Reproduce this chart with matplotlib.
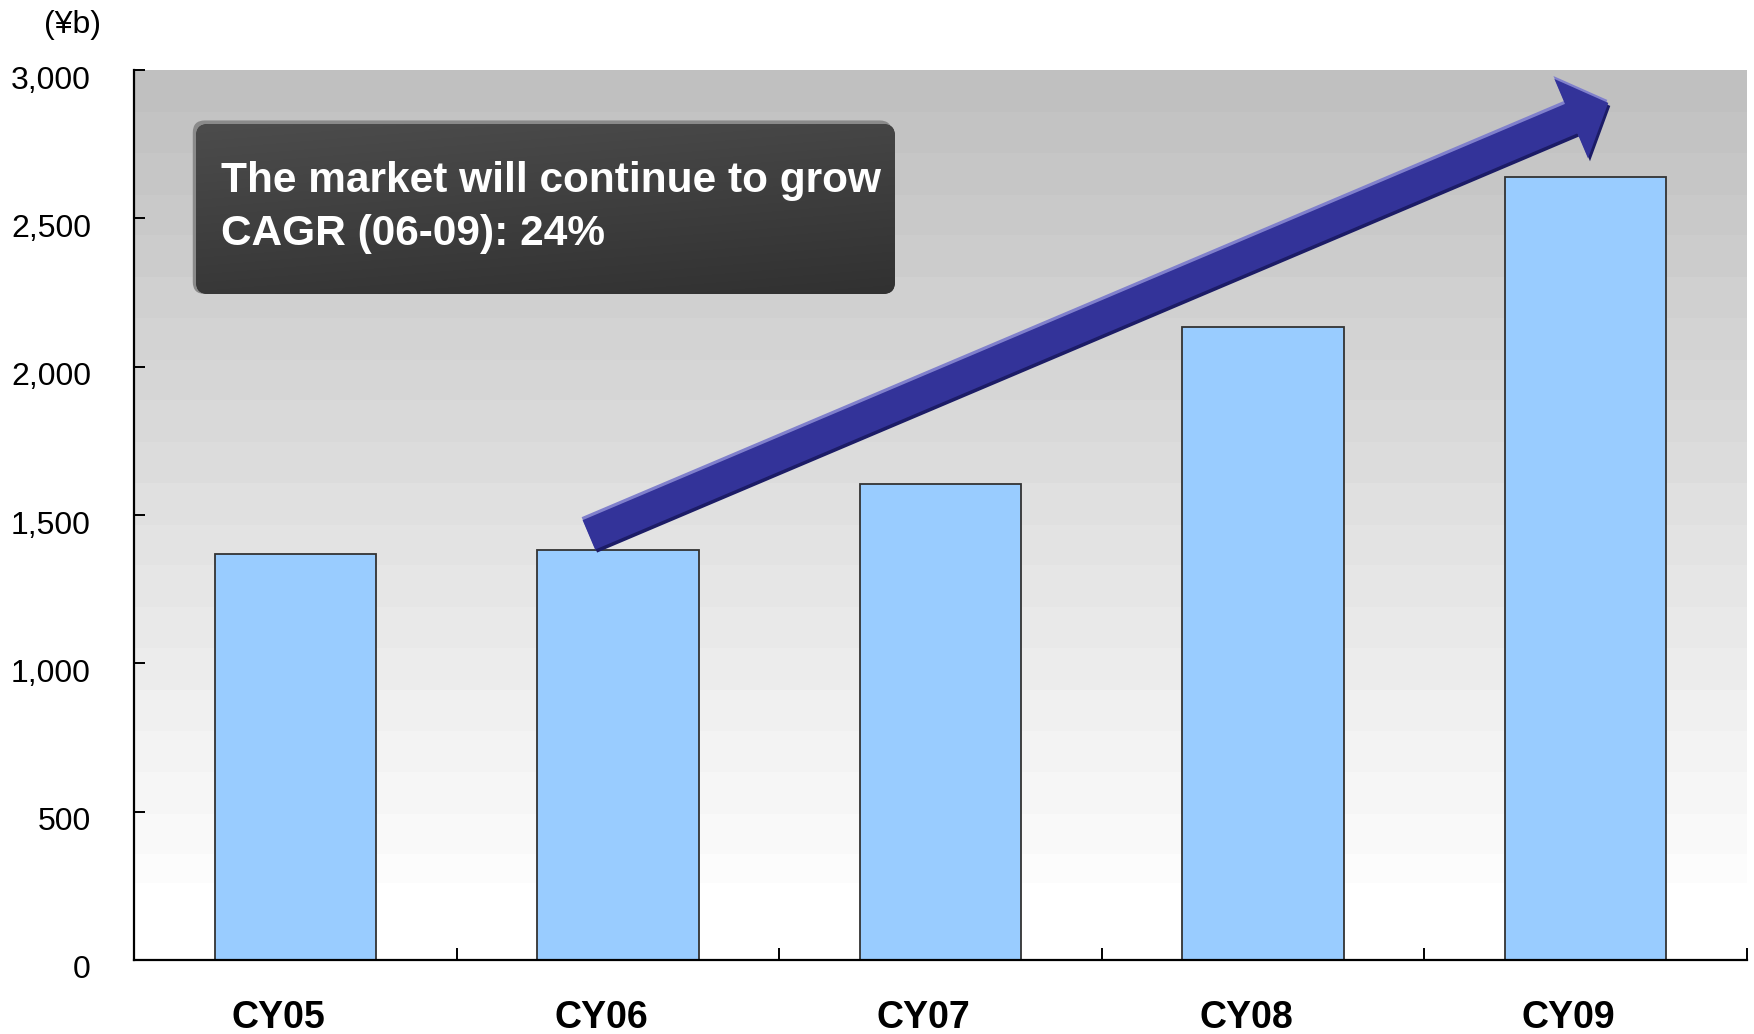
"""
Market size bar chart, CY05-CY09, with growth arrow and CAGR callout.
"""
import numpy as np
import matplotlib
matplotlib.use('Agg')
import matplotlib.pyplot as plt
from matplotlib.patches import FancyArrowPatch, FancyBboxPatch
from matplotlib.transforms import ScaledTranslation, offset_copy

plt.rcParams['font.family'] = ['Liberation Sans', 'DejaVu Sans']

# Market size by calendar year (yen, billions)
years = ['CY05', 'CY06', 'CY07', 'CY08', 'CY09']
market = [1369, 1382, 1604, 2135, 2638]

# Growth arrow runs from above CY06 up past CY09
arrow_start = (0.91, 1433)
arrow_end = (4.07, 2889)

callout_lines = ['The market will continue to grow', 'CAGR (06-09): 24%']
yticks = [0, 500, 1000, 1500, 2000, 2500, 3000]

fig = plt.figure(figsize=(17.54, 10.34), dpi=100)
ax = fig.add_axes([134 / 1754, 74 / 1034, 1613 / 1754, 890 / 1034])
x = np.arange(len(years))

ax.set_xlim(-0.5, len(years) - 0.5)
ax.set_ylim(0, 3000)

# grey-to-white banded background
rows = np.linspace(1, 0, 900)
grey = 192 + 63 * np.clip((1 - rows) / (1 - 0.086), 0, 1)
grey = np.floor(grey / 3.2) * 3.2
grey[rows < 0.086] = 255
bg = np.repeat(grey[:, None], 2, axis=1) / 255.0
ax.imshow(np.dstack([bg, bg, bg]), extent=[0, 1, 0, 1], transform=ax.transAxes,
          aspect='auto', zorder=0, interpolation='nearest')

ax.bar(x, market, width=0.5, color='#99ccff', edgecolor='#333333',
       linewidth=1.3, zorder=2)

# axes styling
for side in ['top', 'right']:
    ax.spines[side].set_visible(False)
for side in ['left', 'bottom']:
    ax.spines[side].set_linewidth(1.6)
    ax.spines[side].set_zorder(5)

ax.set_yticks(yticks)
ax.set_yticklabels([f'{v:,}' for v in yticks], fontsize=23)
ax.tick_params(axis='y', direction='in', length=8, width=1.4, pad=31)
shift_down = ScaledTranslation(0, -7 / 100, fig.dpi_scale_trans)
for lbl in ax.get_yticklabels():
    lbl.set_transform(lbl.get_transform() + shift_down)

ax.set_xticks(x)
ax.set_xticklabels(years, fontsize=27, fontweight='bold')
ax.tick_params(axis='x', which='major', length=0, pad=29)
shift_left = ScaledTranslation(-17 / 100, 0, fig.dpi_scale_trans)
for lbl in ax.get_xticklabels():
    lbl.set_transform(lbl.get_transform() + shift_left)
ax.set_xticks(np.arange(-0.5, len(years), 1.0), minor=True)
ax.tick_params(axis='x', which='minor', direction='in', length=9, width=1.4)

fig.text(72 / 1754, 1 - 25 / 1034, '(¥b)', fontsize=23, ha='center', va='center')

# growth arrow with light upper edge and dark lower edge
arrow_kw = dict(arrowstyle='simple,head_length=29,head_width=62,tail_width=23',
                mutation_scale=1, shrinkA=0, shrinkB=0, linewidth=0)
for dx, dy, col in [(2, -3, '#1c1c66'), (-1, 3, '#8080cc'), (0, 0, '#333399')]:
    tr = offset_copy(ax.transData, fig=fig, x=dx, y=dy, units='dots')
    ax.add_patch(FancyArrowPatch(arrow_start, arrow_end, transform=tr,
                                 color=col, zorder=4, **arrow_kw))

# callout box
bx0, by0 = (196 - 134) / 1613, (960 - 294) / 890
bw, bh = (895 - 196) / 1613, (294 - 124) / 890
asp = 1613 / 890
edge = FancyBboxPatch((bx0 - 0.002, by0), bw, bh + 0.004,
                      boxstyle='round,pad=0,rounding_size=0.0075',
                      mutation_aspect=asp, transform=ax.transAxes,
                      facecolor='#8a8a8a', edgecolor='none', zorder=5)
ax.add_patch(edge)
box = FancyBboxPatch((bx0, by0), bw, bh,
                     boxstyle='round,pad=0,rounding_size=0.0075',
                     mutation_aspect=asp, transform=ax.transAxes,
                     facecolor='#3c3c3c', edgecolor='none', zorder=6)
ax.add_patch(box)
gy, gx = np.mgrid[0:1:100j, 0:1:200j]
shade = (0x4c - (0x4c - 0x31) * (0.75 * gy + 0.25 * gx)) / 255.0
grad = ax.imshow(np.dstack([shade, shade, shade]),
                 extent=[bx0, bx0 + bw, by0, by0 + bh], transform=ax.transAxes,
                 aspect='auto', zorder=6.5, interpolation='bilinear')
grad.set_clip_path(box)

ax.text((221 - 134) / 1613, (960 - 181) / 890, callout_lines[0],
        transform=ax.transAxes, fontsize=30.5, fontweight='bold', color='white',
        ha='left', va='center', zorder=7)
ax.text((221 - 134) / 1613, (960 - 234) / 890, callout_lines[1],
        transform=ax.transAxes, fontsize=30.5, fontweight='bold', color='white',
        ha='left', va='center', zorder=7)

fig.savefig('out.png', dpi=100)
